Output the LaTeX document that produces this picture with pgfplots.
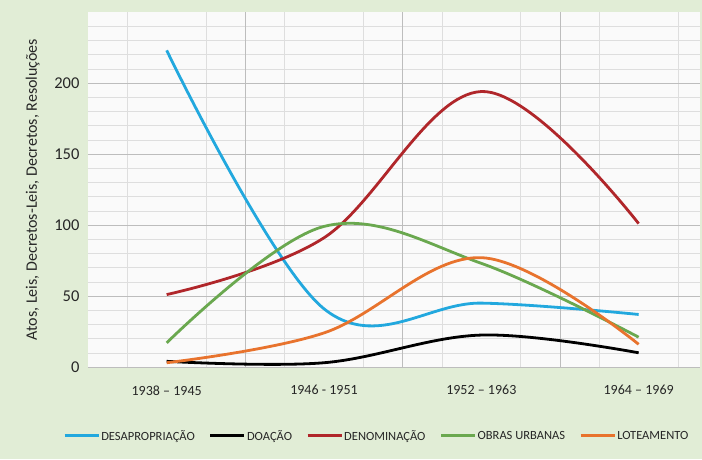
\documentclass[border=0pt]{standalone}
\usepackage{pgfplots}
\pgfplotsset{compat=1.18}
\usepackage{fontspec}
\setmainfont{Carlito}
\definecolor{bggreen}{HTML}{E1EDD6}
\definecolor{cblue}{HTML}{22A8DE}
\definecolor{cred}{HTML}{B0262A}
\definecolor{cgreen}{HTML}{6AA84F}
\definecolor{corange}{HTML}{E8732D}
\definecolor{gridc}{HTML}{BDBDBD}
\pgfdeclarelayer{background}
\pgfsetlayers{background,main}
\begin{document}
\begin{tikzpicture}
\begin{axis}[
  scale only axis, width=612pt, height=355pt,
  xmin=-0.5, xmax=3.39, ymin=0, ymax=250,
  axis background/.style={fill=white!96!gray},
  axis line style={draw=none},
  xtick={0,1,2,3},
  xticklabels={1938 -- 1945, 1946 - 1951, 1952 -- 1963, 1964 -- 1969},
  ytick={0,50,100,150,200},
  minor ytick={10,20,30,40,60,70,80,90,110,120,130,140,160,170,180,190,210,220,230,240},
  extra x ticks={0.5,1.5,2.5}, extra x tick labels={},
  extra x tick style={grid=major, major grid style={gridc, line width=0.8pt}, tick style={draw=none}},
  minor xtick={-0.25,0.25,0.75,1.25,1.75,2.25,2.75,3.25},
  ymajorgrids, yminorgrids, xminorgrids,
  major grid style={gridc, line width=0.8pt},
  minor grid style={gridc!50, line width=0.4pt},
  tick style={draw=none},
  /pgf/number format/assume math mode=true,
  yticklabel style={font=\fontsize{16.5}{18}\selectfont, text=black!85, xshift=-5pt},
  xticklabel style={font=\fontsize{14}{16}\selectfont, text=black!85, yshift=-15pt},
  ylabel={Atos, Leis, Decretos-Leis, Decretos, Resoluções},
  ylabel style={font=\fontsize{16}{18}\selectfont, text=black!85, yshift=8pt},
  legend style={at={(-0.041,-0.194)}, anchor=west, draw=none, fill=none, inner sep=0pt,
    font=\fontsize{12.5}{15}\selectfont, text=black!85, legend columns=5,
    nodes={inner xsep=1pt},
    /tikz/every even column/.append style={column sep=13pt}},
  legend image code/.code={\draw[#1, line width=3.2pt] (0pt,0pt) -- (34pt,0pt);},
  every axis plot/.append style={line width=2.8pt, smooth, tension=0.6},
]
\coordinate (O) at (rel axis cs:0,0);
\addplot[cblue] coordinates {(0,223) (1,41) (2,45) (3,37)};
\addlegendentry{DESAPROPRIAÇÃO}
\addplot[black] coordinates {(0,4) (1,3) (2,22.5) (3,10)};
\addlegendentry{DOAÇÃO}
\addplot[cred] coordinates {(0,51) (1,91) (2,194) (3,101)};
\addlegendentry{DENOMINAÇÃO}
\addplot[cgreen] coordinates {(0,17) (1,99) (2,73) (3,21)};
\addlegendentry{OBRAS URBANAS}
\addplot[corange] coordinates {(0,3) (1,24) (2,77) (3,16)};
\addlegendentry{LOTEAMENTO}
\end{axis}
\begin{pgfonlayer}{background}
\fill[bggreen] ([shift={(-88pt,-92pt)}]O) rectangle ++(702pt,459pt);
\end{pgfonlayer}
\pgfresetboundingbox
\useasboundingbox ([shift={(-88pt,-92pt)}]O) rectangle ++(702pt,459pt);
\end{tikzpicture}
\end{document}
